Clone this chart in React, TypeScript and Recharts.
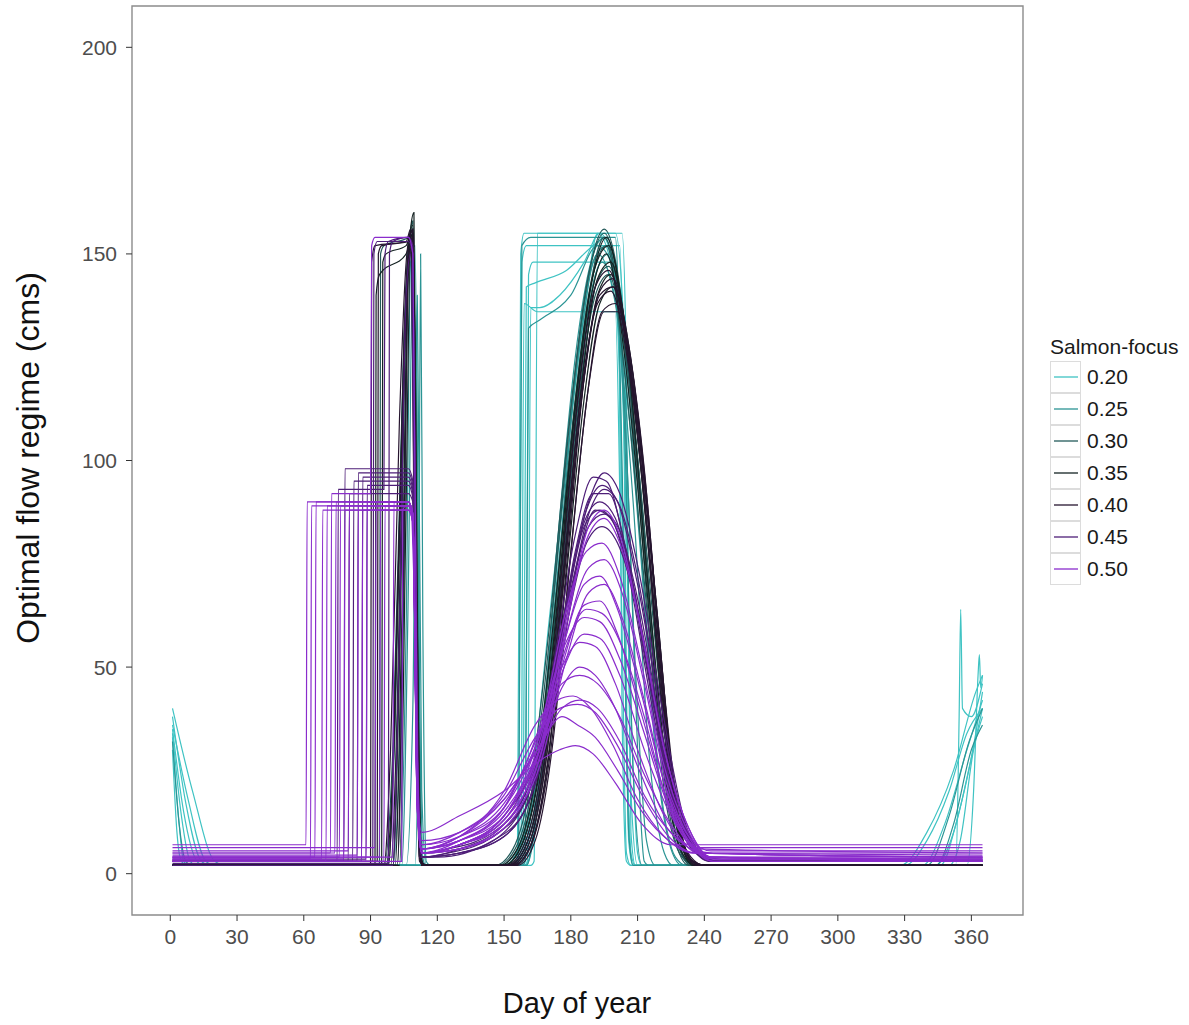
import React from "react";
import { LineChart, Line, XAxis, YAxis, ReferenceArea } from "recharts";

type Pt = [number, number];

// day-of-year ticks and flow ticks
const dayTicks = [0, 30, 60, 90, 120, 150, 180, 210, 240, 270, 300, 330, 360];
const flowTicks = [0, 50, 100, 150, 200];

// salmon-focus levels and colours
const focusLabels = ["0.20", "0.25", "0.30", "0.35", "0.40", "0.45", "0.50"];
const focusColors = ["#3fc3c3", "#2b9494", "#235a5a", "#142222", "#26152f", "#4e1e78", "#8a2ccc"];

// [day, flow] key points, one list per curve
const focus020: Pt[][] = [
  [[1,40],[10,20],[20,3],[25,2],[154,2],[156,3],[157.5,150],[159,155],[203,155],[205,120],[207,10],[209,2],[328,2],[340,10],[352,25],[362,44],[365,48]],
  [[1,36],[8,18],[16,3],[20,2],[155,2],[156.5,3],[158,148],[160,152],[202,152],[204,100],[206,8],[208,2],[338,2],[348,12],[358,30],[365,42]],
  [[1,35],[6,15],[12,3],[15,2],[158,2],[159.5,3],[161,145],[163,148],[200,148],[201.5,140],[203,40],[205,3],[207,2],[344,2],[352,10],[360,28],[365,40]],
  [[1,34],[5,14],[9,3],[12,2],[159,2],[160.5,3],[162,137],[166,137],[175,140],[186,148],[193,155],[198,150],[202,120],[205,30],[208,2],[350,2],[355,8],[361,30],[365,38]],
  [[1,33],[4,12],[6,3],[9,2],[156,2],[157.5,3],[159,138],[165,136],[200,136],[203,60],[205,5],[207,2],[353,2],[354.5,38],[355.2,64],[356,40],[360,38],[365,46]],
  [[1,30],[3,10],[5,3],[8,2],[160,2],[162,15],[170,60],[178,100],[186,135],[192,155],[197,150],[203,120],[207,40],[210,5],[212,2],[346,2],[354,14],[362,34],[365,44]],
  [[1,38],[7,17],[14,3],[18,2],[157,2],[158.5,3],[160,142],[164,143],[178,146],[190,152],[196,154],[201,140],[204,60],[207,5],[209,2],[358,2],[361,20],[363,48],[363.6,53],[364.2,45],[365,48]],
  [[1,2],[162,2],[163.5,3],[165,155],[168,155],[200,155],[204,130],[207,20],[210,2],[330,2],[340,8],[350,20],[358,34],[365,40]],
];

const focus025: Pt[][] = [
  [[1,2],[110,2],[111.5,40],[112.5,150],[113.5,60],[115,3],[117,2],[158,2],[159.5,3],[161,132],[166,134],[180,140],[192,152],[198,148],[204,110],[208,25],[212,2],[365,2]],
  [[1,32],[4,12],[7,3],[10,2],[106,2],[109,40],[111,140],[113,20],[115,2],[160,2],[166,20],[174,70],[182,120],[190,148],[196,152],[203,125],[209,50],[214,8],[218,2],[340,2],[350,14],[359,32],[365,40]],
  [[1,2],[103,2],[106,60],[108,148],[110,152],[112,40],[114,2],[150,2],[158,8],[166,30],[175,82],[184,128],[192,150],[200,138],[208,90],[215,30],[222,5],[226,2],[365,2]],
  [[1,2],[155,2],[156.5,3],[158,152],[162,154],[200,154],[203,100],[206,10],[208,2],[365,2]],
  [[1,2],[100,2],[104,50],[107,150],[109,155],[111,50],[113,2],[152,2],[160,7],[168,28],[177,80],[186,128],[194,148],[202,132],[211,80],[218,30],[225,6],[230,2],[365,2]],
  [[1,2],[160,2],[166,25],[174,80],[182,125],[189,148],[195,154],[201,140],[206,90],[210,30],[213,3],[215,2],[344,2],[352,12],[360,30],[365,36]],
  [[1,2],[104,2],[107,70],[109,150],[111,100],[113,5],[115,2],[150,2],[158,8],[166,28],[175,78],[184,122],[191,145],[197,150],[204,128],[212,75],[220,22],[227,4],[232,2],[365,2]],
];

const focus030: Pt[][] = [
  [[1,2],[96,2],[100,30],[104,110],[107,152],[109,156],[111,60],[113,3],[115,2],[148,2],[156,6],[164,22],[172,58],[180,105],[188,140],[195,154],[203,135],[212,85],[220,35],[228,8],[234,2],[365,2]],
  [[1,2],[98,2],[101,40],[105,130],[108,155],[110,120],[112,10],[114,2],[150,2],[158,7],[166,26],[174,66],[182,112],[190,145],[196,152],[204,122],[214,65],[222,20],[230,4],[236,2],[365,2]],
  [[1,2],[94,2],[94.5,150],[96,152],[107,154],[109,158],[111,40],[113,2],[152,2],[160,7],[168,28],[176,70],[184,115],[191,142],[197,147],[204,130],[211,95],[218,50],[225,15],[232,3],[238,2],[365,2]],
  [[1,2],[100,2],[103,50],[106,140],[108,153],[110,80],[112,4],[114,2],[146,2],[154,6],[162,22],[170,58],[179,108],[187,142],[195,155],[203,138],[212,88],[220,38],[228,8],[234,2],[365,2]],
  [[1,2],[97,2],[101,35],[105,125],[107,150],[109,154],[111,30],[113,2],[151,2],[159,7],[167,26],[175,66],[183,112],[191,140],[197,145],[204,128],[212,90],[219,50],[226,16],[232,3],[237,2],[365,2]],
  [[1,2],[102,2],[105,70],[107,145],[109,152],[111,20],[113,2],[147,2],[155,6],[163,22],[171,60],[180,112],[188,145],[195,156],[202,142],[210,95],[218,42],[226,10],[233,2],[365,2]],
];

const focus035: Pt[][] = [
  [[1,2],[99,2],[102,40],[105,120],[108,156],[109.5,160],[111,60],[113,3],[115,2],[150,2],[158,7],[166,25],[174,64],[182,110],[190,142],[196,150],[204,126],[214,70],[222,25],[230,5],[236,2],[365,2]],
  [[1,2],[95,2],[95.5,148],[97,150],[106,152],[109,156],[111,30],[113,2],[153,2],[161,7],[169,28],[177,72],[185,116],[192,140],[198,145],[205,128],[212,95],[219,55],[226,18],[233,3],[238,2],[365,2]],
  [[1,2],[101,2],[104,60],[107,148],[109,155],[111,40],[113,2],[148,2],[156,6],[164,23],[172,60],[181,108],[189,142],[196,154],[204,134],[213,90],[221,40],[229,9],[235,2],[365,2]],
  [[1,2],[97,2],[100,25],[104,105],[107,150],[109,157],[111,50],[113,2],[152,2],[160,7],[168,26],[176,68],[184,114],[192,144],[198,148],[205,130],[212,100],[219,62],[226,22],[233,4],[239,2],[365,2]],
  [[1,2],[103,2],[106,90],[108,152],[110,130],[112,8],[114,2],[150,2],[158,7],[166,26],[174,66],[182,114],[190,145],[197,152],[205,128],[214,74],[223,26],[231,5],[237,2],[365,2]],
  [[1,2],[92,2],[92.5,140],[94,145],[106,150],[109,155],[111,25],[113,2],[154,2],[162,7],[170,28],[178,72],[186,115],[193,138],[199,142],[206,128],[213,96],[220,52],[227,14],[234,3],[240,2],[365,2]],
];

const focus040: Pt[][] = [
  [[1,2],[96,2],[99,30],[103,110],[106,148],[108,155],[110,100],[112,6],[114,2],[153,2],[161,7],[169,28],[177,72],[186,120],[193,140],[199,142],[206,124],[213,92],[220,50],[227,15],[234,3],[240,2],[365,2]],
  [[1,2],[90,2],[90.5,148],[92,152],[106,153],[108,156],[110,60],[112,3],[114,2],[155,2],[163,8],[171,30],[179,72],[187,114],[194,136],[200,138],[207,124],[214,92],[221,48],[228,13],[235,3],[241,2],[365,2]],
  [[1,2],[100,2],[103,55],[106,140],[108,152],[110,90],[112,4],[114,2],[151,2],[159,7],[167,26],[175,68],[183,114],[191,142],[197,146],[204,132],[212,100],[219,62],[226,22],[232,5],[238,2],[365,2]],
  [[1,2],[98,2],[101,40],[105,128],[107,150],[109,154],[111,40],[113,2],[156,2],[164,8],[172,32],[180,78],[188,118],[195,136],[201,136],[208,118],[215,84],[222,44],[229,12],[236,2],[365,2]],
  [[1,3],[93,3],[93.5,150],[95,152],[107,153],[109,156],[111,35],[113,3],[115,2],[152,2],[160,7],[168,27],[176,70],[185,118],[192,138],[198,141],[205,126],[212,96],[219,53],[226,17],[234,4],[240,2],[365,2]],
  [[1,2],[102,2],[105,80],[107,146],[109,153],[111,30],[113,2],[154,2],[162,7],[170,29],[178,74],[186,120],[193,141],[199,144],[206,128],[213,98],[220,54],[227,16],[235,3],[241,2],[365,2]],
];

const focus045: Pt[][] = [
  [[1,3],[78,3],[78.5,98],[80,98],[107,98],[109,95],[111,20],[113,5],[125,6],[145,10],[160,20],[172,50],[182,82],[190,96],[196,95],[204,80],[214,50],[224,22],[234,7],[242,3],[365,3]],
  [[1,3],[82,3],[82.5,95],[84,95],[107,95],[109,92],[111,20],[113,4],[125,5],[145,9],[160,18],[172,45],[182,78],[190,92],[197,92],[205,78],[215,48],[225,20],[235,6],[243,3],[365,3]],
  [[1,3],[75,3],[75.5,93],[77,93],[96,93],[96.5,150],[98,153],[107,154],[109,152],[111,30],[113,4],[120,4],[145,8],[160,16],[173,42],[183,75],[191,88],[198,86],[206,72],[216,42],[226,16],[236,5],[244,3],[365,3]],
  [[1,3],[86,3],[86.5,96],[88,96],[107,96],[109,93],[111,25],[113,4],[130,6],[150,12],[165,28],[176,60],[186,85],[193,90],[200,86],[208,70],[218,40],[228,15],[238,5],[245,3],[365,3]],
  [[1,2],[100,2],[103,60],[106,140],[108,150],[110,70],[112,4],[130,5],[150,9],[165,24],[176,58],[186,84],[193,88],[200,84],[209,66],[219,36],[229,13],[239,4],[246,3],[365,3]],
  [[1,3],[80,3],[80.5,92],[82,92],[107,92],[109,90],[111,20],[113,5],[130,7],[150,14],[166,30],[178,60],[187,80],[194,84],[201,80],[210,64],[220,36],[230,13],[240,4],[247,3],[365,3]],
  [[1,3],[91,3],[91.5,150],[93,153],[107,153],[109,150],[111,40],[113,4],[130,5],[150,10],[166,28],[178,62],[188,87],[195,93],[202,89],[210,72],[220,40],[230,14],[240,4],[246,3],[365,3]],
  [[1,3.5],[88,3.5],[88.5,94],[90,94],[107,94],[109,91],[111,22],[113,5],[130,7],[150,13],[166,32],[178,64],[188,84],[195,87],[202,83],[211,64],[221,34],[231,11],[241,4],[248,3.5],[365,3.5]],
  [[1,3],[84,3],[84.5,97],[86,97],[107,97],[109,94],[111,22],[113,5],[130,6],[150,11],[165,26],[177,62],[187,88],[194,94],[201,90],[210,70],[220,40],[230,14],[240,4],[247,3],[365,3]],
  [[1,2.5],[98,2.5],[98.5,150],[100,153],[107,154],[109,150],[111,30],[113,4],[130,5],[150,9],[166,26],[178,66],[188,90],[195,97],[202,92],[211,72],[221,40],[231,13],[241,4],[247,3],[365,3]],
];

const focus050: Pt[][] = [
  [[1,7],[61,7],[61.5,90],[63,90],[107,90],[109,87],[111,20],[113,10],[130,14],[150,20],[165,27],[175,30],[182,31],[190,29],[200,22],[212,12],[225,7],[240,7],[365,7]],
  [[1,4],[65,4],[65.5,90],[67,90],[107,90],[109,87],[111,20],[113,6],[130,8],[150,15],[166,30],[176,45],[184,50],[191,48],[200,40],[210,26],[222,12],[234,6],[244,4],[365,4]],
  [[1,3],[70,3],[70.5,89],[72,89],[107,89],[109,86],[111,18],[113,5],[130,7],[150,13],[166,28],[177,52],[186,65],[193,66],[201,58],[211,40],[222,20],[233,8],[244,4],[365,3]],
  [[1,5],[74,5],[74.5,90],[76,90],[107,90],[109,86],[111,16],[113,6],[130,9],[150,17],[165,32],[176,50],[184,56],[191,55],[200,46],[210,30],[222,14],[234,6],[244,5],[365,5]],
  [[1,3.5],[78,3.5],[78.5,88],[80,88],[107,88],[109,85],[111,15],[113,5],[130,7],[150,14],[166,34],[178,64],[187,78],[194,80],[202,72],[212,50],[222,26],[233,10],[243,4],[365,3.5]],
  [[1,4.5],[84,4.5],[84.5,89],[86,89],[107,89],[109,86],[111,18],[113,6],[130,9],[150,20],[164,36],[174,42],[181,43],[189,40],[199,31],[210,18],[222,9],[235,5],[365,4.5]],
  [[1,3],[88,3],[88.5,90],[90,90],[107,90],[109,87],[111,20],[113,5],[130,7],[150,12],[166,30],[178,62],[188,82],[195,86],[202,80],[212,58],[222,30],[233,11],[243,4],[365,3]],
  [[1,6.3],[92,6.3],[92.5,90],[94,90],[107,90],[109,87],[111,22],[113,8],[130,10],[150,18],[165,30],[176,40],[184,42],[192,40],[202,32],[213,19],[225,10],[238,6.3],[365,6.3]],
  [[1,3],[96,3],[96.5,89],[98,89],[107,89],[109,86],[111,18],[113,5],[130,6],[150,11],[166,28],[178,58],[188,74],[195,76],[203,68],[213,46],[223,22],[234,8],[244,3],[365,3]],
  [[1,4],[100,4],[100.5,90],[102,90],[107,90],[109,87],[111,20],[113,6],[130,8],[150,16],[165,33],[176,46],[184,48],[192,46],[202,38],[213,24],[225,12],[237,5],[365,4]],
  [[1,3.5],[68,3.5],[68.5,88],[70,88],[107,88],[109,85],[111,16],[113,5],[130,8],[150,16],[165,34],[177,55],[186,62],[193,61],[202,52],[213,34],[224,16],[235,6],[245,3.5],[365,3.5]],
  [[1,3],[104,3],[104.5,88],[106,89],[108,89],[110,60],[112,8],[114,5],[130,6],[150,12],[166,26],[178,52],[188,68],[195,70],[203,62],[213,42],[223,20],[234,7],[244,3],[365,3]],
  [[1,5],[72,5],[72.5,92],[74,92],[90,92],[90.5,152],[92,154],[107,154],[109,150],[111,30],[113,6],[130,8],[150,14],[166,30],[177,50],[186,58],[193,57],[202,48],[213,30],[225,14],[237,6],[365,5]],
  [[1,4],[76,4],[76.5,89],[78,89],[107,89],[109,86],[111,18],[113,7],[130,10],[150,19],[164,33],[175,40],[183,41],[191,39],[201,31],[212,19],[224,9],[236,5],[365,4]],
  [[1,5.5],[80,5.5],[80.5,90],[82,90],[107,90],[109,87],[111,20],[113,7],[130,9],[150,16],[165,32],[177,56],[186,70],[193,72],[201,64],[211,45],[222,22],[233,9],[243,5.5],[365,5.5]],
  [[1,3],[86,3],[86.5,88],[88,88],[107,88],[109,85],[111,16],[113,5],[130,7],[150,14],[166,32],[178,60],[188,84],[195,88],[202,82],[212,58],[222,30],[233,11],[243,4],[365,3]],
  [[1,4],[94,4],[94.5,89],[96,89],[107,89],[109,86],[111,18],[113,6],[130,9],[150,18],[165,30],[176,38],[183,36],[191,33],[201,25],[212,15],[224,8],[236,5],[365,4]],
  [[1,3.5],[63,3.5],[63.5,89],[65,89],[107,89],[109,86],[111,16],[113,5],[130,7],[150,13],[166,30],[178,55],[187,64],[194,63],[203,55],[213,38],[223,18],[234,7],[244,3.5],[365,3.5]],
];

const focusCurves = [focus020, focus025, focus030, focus035, focus040, focus045, focus050];

const FONT = '"Liberation Sans", Arial, sans-serif';

function FocusLegend() {
  return (
    <div style={{ position: "absolute", left: 1050, top: 334, fontFamily: FONT, color: "#1a1a1a" }}>
      <div style={{ fontSize: 21, lineHeight: "26px", whiteSpace: "nowrap" }}>Salmon-focus</div>
      <div style={{ marginTop: 1 }}>
        {focusLabels.map((label, i) => (
          <div key={label} style={{ display: "flex", alignItems: "center", height: 32 }}>
            <svg width={31} height={32} style={{ display: "block" }}>
              <rect x={0.5} y={0.5} width={30} height={31} fill="none" stroke="#dcdcdc" />
              <line x1={4} x2={28} y1={16} y2={16} stroke={focusColors[i]} strokeWidth={1.3} />
            </svg>
            <span style={{ fontSize: 21, marginLeft: 6 }}>{label}</span>
          </div>
        ))}
      </div>
    </div>
  );
}

export default function App() {
  return (
    <div style={{ position: "absolute", left: 0, top: 0, width: 1189, height: 1025, background: "#fff" }}>
      <LineChart width={1189} height={1025} margin={{ top: 6, right: 166, bottom: 50, left: 62 }}>
        <XAxis
          type="number"
          dataKey="d"
          domain={[-17.2, 383.2]}
          ticks={dayTicks}
          allowDataOverflow
          axisLine={false}
          tickSize={6}
          tickMargin={8}
          height={60}
          tickLine={{ stroke: "#333" }}
          tick={{ fontSize: 21, fill: "#4d4d4d", fontFamily: FONT }}
        />
        <YAxis
          type="number"
          domain={[-10, 210]}
          ticks={flowTicks}
          allowDataOverflow
          axisLine={false}
          width={70}
          tickSize={6}
          tickMargin={9}
          tickLine={{ stroke: "#333" }}
          tick={{ fontSize: 21, fill: "#4d4d4d", fontFamily: FONT }}
        />
        <ReferenceArea x1={-17.2} x2={383.2} y1={-10} y2={210} fill="none" stroke="#8c8c8c" strokeWidth={1.4} />
        {focusCurves.flatMap((group, gi) =>
          group.map((pts, ci) => (
            <Line
              key={`f${gi}-${ci}`}
              data={pts.map(([d, v]) => ({ d, v }))}
              dataKey="v"
              type="monotone"
              stroke={focusColors[gi]}
              strokeWidth={1.2}
              dot={false}
              activeDot={false}
              isAnimationActive={false}
            />
          ))
        )}
      </LineChart>
      <div
        style={{
          position: "absolute",
          left: 577,
          top: 987,
          transform: "translateX(-50%)",
          fontSize: 29,
          lineHeight: "32px",
          fontFamily: FONT,
          color: "#111",
          whiteSpace: "nowrap",
        }}
      >
        Day of year
      </div>
      <div
        style={{
          position: "absolute",
          left: 28,
          top: 458,
          transform: "translate(-50%, -50%) rotate(-90deg)",
          fontSize: 32,
          lineHeight: "34px",
          fontFamily: FONT,
          color: "#111",
          whiteSpace: "nowrap",
        }}
      >
        Optimal flow regime (cms)
      </div>
      <FocusLegend />
    </div>
  );
}
